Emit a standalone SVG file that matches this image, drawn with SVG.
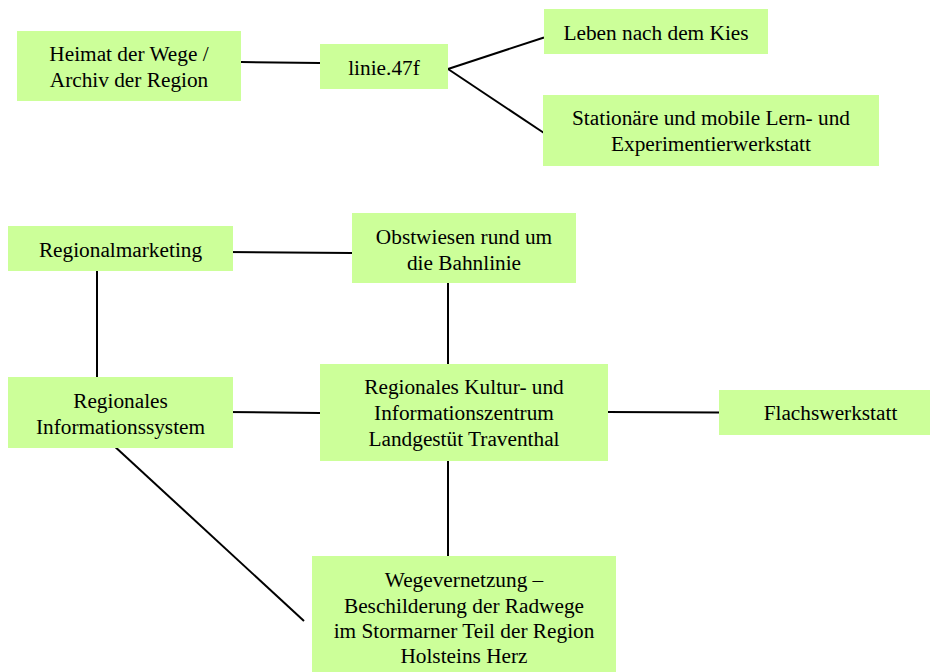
<svg xmlns="http://www.w3.org/2000/svg" width="930" height="672" viewBox="0 0 930 672" font-family="Liberation Serif">
<style>
.box{fill:#CCFF99;stroke:none}
text.t{font-family:'Liberation Serif','Times New Roman',serif;font-size:21.3px;fill:#000;text-anchor:middle}
.c{stroke:#000;stroke-width:2;fill:none}
</style>
<rect width="930" height="672" fill="#fff"/>
<g id="connectors">
<line class="c" x1="241" y1="62" x2="320" y2="63"/>
<line class="c" x1="448" y1="69" x2="544" y2="37.5"/>
<line class="c" x1="448" y1="69" x2="544" y2="133"/>
<line class="c" x1="226" y1="252" x2="352" y2="253"/>
<line class="c" x1="97" y1="268" x2="97" y2="378"/>
<line class="c" x1="448" y1="283" x2="448" y2="364"/>
<line class="c" x1="226" y1="412" x2="320" y2="413"/>
<line class="c" x1="607" y1="412" x2="719" y2="412.5"/>
<line class="c" x1="448" y1="460" x2="448" y2="556"/>
<line class="c" x1="112" y1="444" x2="304" y2="621" stroke-width="1.6"/>
</g>
<g id="heimat">
<rect class="box" x="17" y="31" width="224" height="70"/>
<text class="t" x="129" y="61">Heimat der Wege /</text>
<text class="t" x="129" y="87">Archiv der Region</text>
</g>
<g id="linie47f">
<rect class="box" x="320" y="44" width="128" height="45"/>
<text class="t" x="384" y="74.5">linie.47f</text>
</g>
<g id="leben">
<rect class="box" x="544" y="9" width="224" height="45"/>
<text class="t" x="656" y="39.5">Leben nach dem Kies</text>
</g>
<g id="stationaer">
<rect class="box" x="543" y="95" width="336" height="71"/>
<text class="t" x="711" y="125">Stationäre und mobile Lern- und</text>
<text class="t" x="711" y="151">Experimentierwerkstatt</text>
</g>
<g id="regionalmarketing">
<rect class="box" x="8" y="226" width="225" height="45"/>
<text class="t" x="120.5" y="257">Regionalmarketing</text>
</g>
<g id="obstwiesen">
<rect class="box" x="352" y="213" width="224" height="70"/>
<text class="t" x="464" y="243.5">Obstwiesen rund um</text>
<text class="t" x="464" y="269.5">die Bahnlinie</text>
</g>
<g id="informationssystem">
<rect class="box" x="8" y="377" width="225" height="71"/>
<text class="t" x="120.5" y="407.5">Regionales</text>
<text class="t" x="120.5" y="433.5">Informationssystem</text>
</g>
<g id="kulturzentrum">
<rect class="box" x="320" y="364" width="288" height="97"/>
<text class="t" x="464" y="394">Regionales Kultur- und</text>
<text class="t" x="464" y="420">Informationszentrum</text>
<text class="t" x="464" y="446">Landgestüt Traventhal</text>
</g>
<g id="flachswerkstatt">
<rect class="box" x="719" y="390" width="224" height="45"/>
<text class="t" x="830.5" y="420">Flachswerkstatt</text>
</g>
<g id="wegevernetzung">
<rect class="box" x="312" y="556" width="304" height="120"/>
<text class="t" x="464" y="587">Wegevernetzung –</text>
<text class="t" x="464" y="612.5">Beschilderung der Radwege</text>
<text class="t" x="464" y="638">im Stormarner Teil der Region</text>
<text class="t" x="464" y="663">Holsteins Herz</text>
</g>
</svg>
